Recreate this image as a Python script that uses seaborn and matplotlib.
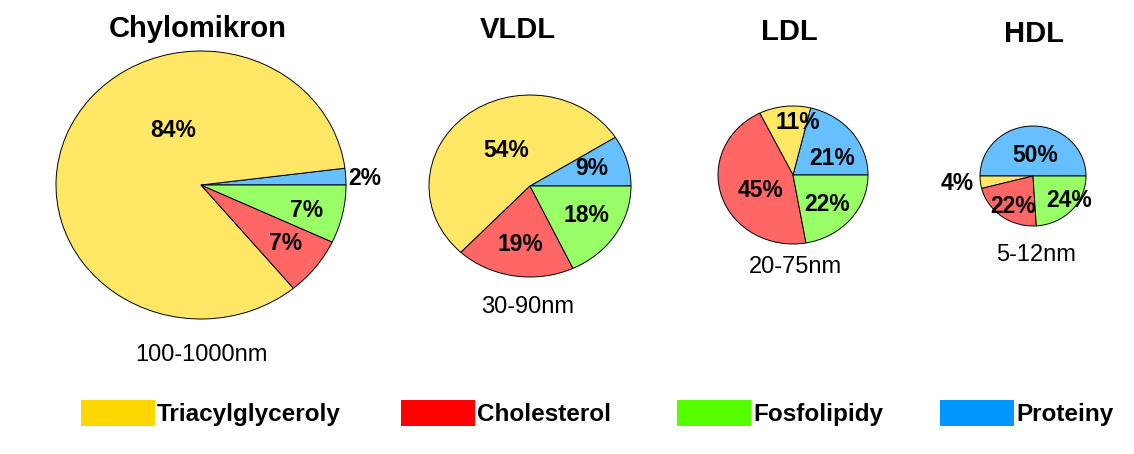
import numpy as np
import matplotlib
matplotlib.use('Agg')
import matplotlib.pyplot as plt
import seaborn as sns
from matplotlib.patches import Patch

# components (legend order) and their colours
components = ['Triacylglyceroly', 'Cholesterol', 'Fosfolipidy', 'Proteiny']
legend_colors = ['#FFD700', '#FF0000', '#55FF00', '#0096FF']

particles = ['Chylomikron', 'VLDL', 'LDL', 'HDL']
size_ranges = ['100-1000nm', '30-90nm', '20-75nm', '5-12nm']

# percentages, in component order
chylomikron = [84, 7, 7, 2]
vldl = [54, 19, 18, 9]
ldl = [11, 45, 22, 21]
hdl = [4, 22, 24, 50]

# wedges go counterclockwise from 3 o'clock: Proteiny, Triacyl, Cholesterol, Fosfolipidy
wedge_order = [3, 0, 1, 2]

W, H = 1134, 454

# pie boxes in pixels: centre x, centre y, x radius, y radius
pie_boxes = [(201, 185, 145, 134), (530, 186, 101, 91), (793, 175, 75, 69), (1033, 176, 53, 50)]
# label placement (radius, angle) per component
label_pos = [
    [(0.45, 115), (0.73, -37), (0.75, -14.5), (1.13, 2.5)],
    [(0.46, 121), (0.65, -98), (0.65, -30), (0.64, 17)],
    [(0.76, 85), (0.49, 208), (0.63, -43), (0.58, 25)],
    [(1.43, 186), (0.71, 238), (0.84, -35), (0.42, 85)],
]
title_pos = [(198, 37), (518, 38), (789, 40), (1034, 42)]
size_pos = [(201, 361), (528, 313), (795, 273), (1036, 261)]
legend_x = [81, 401, 677, 940]
legend_y = 413

sns.set_theme(style='white')
plt.rcParams['font.family'] = ['Liberation Sans', 'DejaVu Sans']
plt.rcParams['text.color'] = 'black'

# pie colours are the legend colours washed out towards white
pal = np.array(sns.color_palette(legend_colors))
pie_colors = pal * 0.6 + 0.4

fig = plt.figure(figsize=(W / 100, H / 100), dpi=100)


def fx(x):
    return x / W


def fy(y):
    return 1 - y / H


all_vals = [chylomikron, vldl, ldl, hdl]
for i, vals in enumerate(all_vals):
    cx, cy, rx, ry = pie_boxes[i]
    ax = fig.add_axes([fx(cx - rx), fy(cy + ry), 2 * rx / W, 2 * ry / H])
    ax.pie([vals[k] for k in wedge_order], colors=[pie_colors[k] for k in wedge_order],
           startangle=0, counterclock=True,
           wedgeprops=dict(edgecolor='black', linewidth=0.7))
    ax.set_aspect('auto')
    ax.set_xlim(-1, 1)
    ax.set_ylim(-1, 1)
    ax.axis('off')
    for k, v in enumerate(vals):
        r, a = label_pos[i][k]
        ax.text(r * np.cos(np.radians(a)), r * np.sin(np.radians(a)), '{}%'.format(v),
                ha='center', va='center', fontsize=16.5, fontweight='bold', clip_on=False)

    tx, ty = title_pos[i]
    fig.text(fx(tx), fy(ty), particles[i], ha='center', va='baseline',
             fontsize=21, fontweight='bold')
    sx, sy = size_pos[i]
    fig.text(fx(sx), fy(sy), size_ranges[i], ha='center', va='baseline', fontsize=17)

# one legend per entry so each sits where the reference has it
for name, c, lx in zip(components, legend_colors, legend_x):
    fig.legend(handles=[Patch(facecolor=c, edgecolor='none', label=name)],
               loc='center left', bbox_to_anchor=(fx(lx), fy(legend_y)),
               frameon=False, handlelength=3.05, handleheight=1.27,
               handletextpad=0.08, borderpad=0, borderaxespad=0,
               prop=dict(weight='bold', size=17.5))

fig.savefig('out.png', dpi=100)
